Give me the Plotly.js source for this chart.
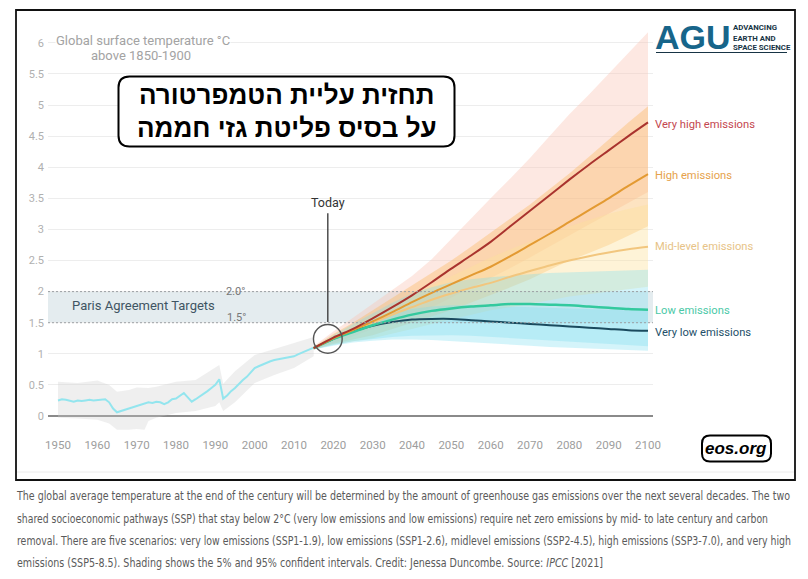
<!DOCTYPE html>
<html>
<head>
<meta charset="utf-8">
<script src="https://cdn.plot.ly/plotly-3.0.1.min.js"></script>
<style>
  html, body { margin:0; padding:0; background:#fff; }
  #wrap { position:relative; width:808px; height:579px; overflow:hidden; }
  #chart { position:absolute; left:0; top:0; width:808px; height:579px; }
  .cap { position:absolute; left:17px; white-space:nowrap; font-family:"DejaVu Sans Condensed","Liberation Sans Narrow","DejaVu Sans",sans-serif; font-stretch:condensed; font-size:11.5px; color:#5a5a5a; transform-origin:0 50%; line-height:14px; }
</style>
</head>
<body>
<div id="wrap">
  <div id="chart"></div>
</div>
<script>
// ---------------- DATA ----------------
const histYears = [1950,1951,1952,1953,1954,1955,1956,1957,1958,1959,1960,1961,1962,1963,1964,1965,1966,1967,1968,1969,
  1970,1971,1972,1973,1974,1975,1976,1977,1978,1979,1980,1981,1982,1983,1984,1985,1986,1987,1988,1989,
  1990,1991,1992,1993,1994,1995,1996,1997,1998,1999,2000,2001,2002,2003,2004,2005,2006,2007,2008,2009,
  2010,2011,2012,2013,2014,2015];
const histTemp = [0.25,0.27,0.26,0.24,0.23,0.25,0.24,0.25,0.26,0.25,0.26,0.27,0.27,0.22,0.12,0.06,0.08,0.11,0.12,0.14,
  0.17,0.18,0.20,0.22,0.21,0.23,0.22,0.19,0.22,0.27,0.28,0.32,0.37,0.30,0.23,0.27,0.31,0.36,0.40,0.45,
  0.50,0.59,0.28,0.33,0.40,0.45,0.52,0.58,0.63,0.70,0.77,0.80,0.83,0.86,0.88,0.90,0.91,0.92,0.93,0.94,
  0.96,0.99,1.02,1.05,1.08,1.10];

const histBandYears = [1950,1955,1960,1963,1965,1968,1970,1972,1973,1975,1980,1985,1990,1991,1992,1995,2000,2005,2010,2015];
const histUpper     = [0.55,0.53,0.57,0.50,0.39,0.42,0.46,0.45,0.45,0.47,0.55,0.58,0.78,0.82,0.52,0.72,0.98,1.08,1.18,1.27];
const histLower     = [-0.03,-0.04,-0.06,-0.12,-0.22,-0.22,-0.21,-0.22,-0.08,-0.03,0.05,0.08,0.16,0.22,0.08,0.22,0.53,0.66,0.77,0.96];

const projYears = [2015,2020,2025,2030,2035,2040,2045,2050,2055,2060,2065,2070,2075,2080,2085,2090,2095,2100];
const veryHigh  = [1.09,1.26,1.40,1.57,1.75,1.94,2.15,2.37,2.58,2.80,3.05,3.30,3.55,3.80,4.04,4.27,4.50,4.72];
const high      = [1.09,1.25,1.38,1.52,1.67,1.83,1.98,2.12,2.26,2.40,2.57,2.75,2.93,3.12,3.31,3.50,3.70,3.89];
const midLevel  = [1.09,1.24,1.37,1.50,1.63,1.75,1.87,1.97,2.06,2.14,2.24,2.33,2.42,2.50,2.57,2.63,2.68,2.72];
const low       = [1.09,1.24,1.35,1.46,1.55,1.63,1.69,1.73,1.76,1.78,1.80,1.80,1.79,1.78,1.76,1.74,1.72,1.71];
const veryLow   = [1.09,1.24,1.36,1.45,1.51,1.55,1.56,1.56,1.54,1.52,1.50,1.48,1.46,1.44,1.42,1.40,1.38,1.37];

const veryHighUp = [1.12,1.36,1.58,1.80,2.02,2.25,2.52,2.85,3.17,3.50,3.82,4.15,4.50,4.85,5.17,5.50,5.83,6.17];
const veryHighLo = [1.07,1.18,1.28,1.40,1.50,1.62,1.75,1.90,2.05,2.22,2.38,2.55,2.72,2.90,3.08,3.25,3.42,3.60];
const highUp     = [1.11,1.32,1.50,1.70,1.90,2.10,2.30,2.50,2.72,2.95,3.17,3.40,3.65,3.90,4.17,4.45,4.72,4.98];
const highLo     = [1.07,1.16,1.23,1.30,1.40,1.50,1.60,1.70,1.82,1.95,2.07,2.20,2.35,2.50,2.62,2.75,2.90,3.05];
const midUp      = [1.10,1.30,1.45,1.60,1.78,1.95,2.10,2.25,2.40,2.55,2.68,2.80,2.93,3.05,3.15,3.25,3.33,3.40];
const midLo      = [1.07,1.15,1.20,1.25,1.32,1.40,1.48,1.55,1.63,1.70,1.75,1.80,1.86,1.92,1.96,2.00,2.04,2.08];
const lowUp      = [1.10,1.30,1.48,1.65,1.82,1.97,2.07,2.15,2.20,2.23,2.26,2.28,2.30,2.31,2.32,2.33,2.34,2.35];
const lowLo      = [1.07,1.14,1.20,1.24,1.27,1.29,1.30,1.30,1.29,1.28,1.26,1.24,1.22,1.20,1.18,1.16,1.14,1.12];
const veryLowUp  = [1.10,1.28,1.42,1.55,1.65,1.72,1.76,1.78,1.78,1.77,1.76,1.75,1.74,1.73,1.72,1.71,1.70,1.69];
const veryLowLo  = [1.07,1.13,1.18,1.21,1.23,1.23,1.22,1.20,1.18,1.17,1.15,1.13,1.11,1.10,1.09,1.07,1.06,1.05];

const xTickYears = [1950,1960,1970,1980,1990,2000,2010,2020,2030,2040,2050,2060,2070,2080,2090,2100];
const yTickVals  = [0,0.5,1,1.5,2,2.5,3,3.5,4,4.5,5,5.5,6];
const yTickText  = ["0","0.5","1","1.5","2","2.5","3","3.5","4","4.5","5","5.5","6"];

const parisTargets = [1.5, 2.0];
const todayYear = 2018.6;

const scenarioNames  = ["Very high emissions","High emissions","Mid-level emissions","Low emissions","Very low emissions"];

const captionLines = [
 "The global average temperature at the end of the century will be determined by the amount of greenhouse gas emissions over the next several decades. The two",
 "shared socioeconomic pathways (SSP) that stay below 2°C (very low emissions and low emissions) require net zero emissions by mid- to late century and carbon",
 "removal. There are five scenarios: very low emissions (SSP1-1.9), low emissions (SSP1-2.6), midlevel emissions (SSP2-4.5), high emissions (SSP3-7.0), and very high",
 "emissions (SSP5-8.5). Shading shows the 5% and 95% confident intervals. Credit: Jenessa Duncombe. Source: <i>IPCC</i> [2021]"
];

// ---------------- LAYOUT GEOMETRY ----------------
const W = 808, H = 579;
const PL = 48, PR = 653, PT = 30, PB = 436;
const px = x => (x - PL) / (PR - PL);
const py = y => (PB - y) / (PB - PT);
const FONT = "Roboto, 'Liberation Sans', sans-serif";

function band(xs, up, lo, color) {
  return {
    x: xs.concat(xs.slice().reverse()),
    y: up.concat(lo.slice().reverse()),
    type: 'scatter', mode: 'lines', fill: 'toself', fillcolor: color,
    line: {width: 0}, hoverinfo: 'skip', showlegend: false
  };
}
function line(xs, ys, color, width) {
  return {x: xs, y: ys, type: 'scatter', mode: 'lines',
    line: {color: color, width: width, shape: 'spline', smoothing: 0.8}, showlegend: false, hoverinfo: 'skip'};
}
function roundRect(x0, y0, x1, y1, r) {
  const X0 = px(x0), X1 = px(x1), Y0 = py(y1), Y1 = py(y0);
  const rx = r / (PR - PL), ry = r / (PB - PT);
  return `M ${X0+rx},${Y1} L ${X1-rx},${Y1} Q ${X1},${Y1} ${X1},${Y1-ry} L ${X1},${Y0+ry} Q ${X1},${Y0} ${X1-rx},${Y0} L ${X0+rx},${Y0} Q ${X0},${Y0} ${X0},${Y0+ry} L ${X0},${Y1-ry} Q ${X0},${Y1} ${X0+rx},${Y1} Z`;
}

const colors = {
  veryHigh: '#a9332e', high: '#e39a32', mid: '#f2c67e', low: '#33c99e', veryLow: '#1a4a5e',
  veryHighLbl: '#c4474f', highLbl: '#e6a24c', midLbl: '#e7c387', lowLbl: '#4bc9a7', veryLowLbl: '#24506a'
};

const traces = [
  band(histBandYears, histUpper, histLower, 'rgba(205,205,205,0.32)'),
  band(projYears, veryHighUp, veryHighLo, 'rgba(251,195,180,0.38)'),
  band(projYears, highUp, highLo, 'rgba(250,185,100,0.40)'),
  band(projYears, midUp, midLo, 'rgba(253,225,155,0.40)'),
  band(projYears, lowUp, lowLo, 'rgba(120,220,238,0.32)'),
  band(projYears, veryLowUp, veryLowLo, 'rgba(120,220,238,0.32)'),
  {x: histYears, y: histTemp, type: 'scatter', mode: 'lines', line: {color: '#93e5ee', width: 2}, showlegend: false, hoverinfo: 'skip'},
  line(projYears, midLevel, colors.mid, 2),
  line(projYears, veryLow, colors.veryLow, 2),
  line(projYears, low, colors.low, 2.5),
  line(projYears, high, colors.high, 2),
  line(projYears, veryHigh, colors.veryHigh, 2)
];

const lastVal = a => a[a.length - 1];
const labelSeries = [
  [scenarioNames[0], lastVal(veryHigh), colors.veryHighLbl, -2],
  [scenarioNames[1], lastVal(high), colors.highLbl, -1],
  [scenarioNames[2], lastVal(midLevel), colors.midLbl, 0],
  [scenarioNames[3], lastVal(low), colors.lowLbl, -1],
  [scenarioNames[4], lastVal(veryLow), colors.veryLowLbl, -2]
];

const annotations = [];
labelSeries.forEach(([t, v, c, ys]) => annotations.push({
  xref: 'paper', x: px(653), yref: 'y', y: v, yshift: ys, xanchor: 'left', yanchor: 'middle',
  text: t, showarrow: false, font: {family: FONT, size: 11.2, color: c}
}));

annotations.push(
  {xref: 'paper', yref: 'paper', x: px(143), y: py(40.5), text: 'Global surface temperature °C', showarrow: false,
   font: {family: FONT, size: 13, color: '#a3a3a3'}, bgcolor: '#ffffff', borderpad: 0, xanchor: 'center', yanchor: 'middle'},
  {xref: 'paper', yref: 'paper', x: px(141), y: py(55.5), text: 'above 1850-1900', showarrow: false,
   font: {family: FONT, size: 13, color: '#a3a3a3'}, xanchor: 'center', yanchor: 'middle'},
  {xref: 'paper', yref: 'y', x: px(143.5), y: 1.77, text: 'Paris Agreement Targets', showarrow: false,
   font: {family: FONT, size: 13, color: '#3f5563'}, xanchor: 'center', yanchor: 'middle'},
  {xref: 'paper', yref: 'y', x: px(235), y: parisTargets[1], text: '2.0°', showarrow: false,
   font: {family: FONT, size: 11, color: '#777'}, xanchor: 'center', yanchor: 'middle'},
  {xref: 'paper', yref: 'y', x: px(236), y: parisTargets[0], yshift: 5, text: '1.5°', showarrow: false,
   font: {family: FONT, size: 11, color: '#777'}, xanchor: 'center', yanchor: 'middle'},
  {xref: 'x', yref: 'paper', x: todayYear, y: py(202.5), text: 'Today', showarrow: false,
   font: {family: FONT, size: 12.5, color: '#333'}, xanchor: 'center', yanchor: 'middle'},
  {xref: 'paper', yref: 'paper', x: px(286.5), y: py(95), text: '<b>תחזית עליית הטמפרטורה</b>', showarrow: false,
   font: {family: "'Liberation Sans', 'DejaVu Sans', sans-serif", size: 26, color: '#000'}, xanchor: 'center', yanchor: 'middle'},
  {xref: 'paper', yref: 'paper', x: px(286.5), y: py(128), text: '<b>על בסיס פליטת גזי חממה</b>', showarrow: false,
   font: {family: "'Liberation Sans', 'DejaVu Sans', sans-serif", size: 26, color: '#000'}, xanchor: 'center', yanchor: 'middle'},
  {xref: 'paper', yref: 'paper', x: px(736), y: py(448), text: '<b><i>eos.org</i></b>', showarrow: false,
   font: {family: "'Liberation Sans', Arial, sans-serif", size: 17, color: '#000'}, xanchor: 'center', yanchor: 'middle'},
  {xref: 'paper', yref: 'paper', x: px(653), y: py(37), text: '<b>AGU</b>', showarrow: false,
   font: {family: "'Liberation Sans', Arial, sans-serif", size: 34, color: '#17658a'}, xanchor: 'left', yanchor: 'middle'},
  {xref: 'paper', yref: 'paper', x: px(731), y: py(28), text: '<b>ADVANCING</b>', showarrow: false,
   font: {family: FONT, size: 7.8, color: '#173445'}, xanchor: 'left', yanchor: 'middle'},
  {xref: 'paper', yref: 'paper', x: px(731), y: py(38.3), text: '<b>EARTH AND</b>', showarrow: false,
   font: {family: FONT, size: 7.8, color: '#173445'}, xanchor: 'left', yanchor: 'middle'},
  {xref: 'paper', yref: 'paper', x: px(731), y: py(48), text: '<b>SPACE SCIENCE</b>', showarrow: false,
   font: {family: FONT, size: 7.8, color: '#173445'}, xanchor: 'left', yanchor: 'middle'}
);

const shapes = [
  {type: 'rect', xref: 'paper', yref: 'y', x0: 0, x1: 1, y0: parisTargets[0], y1: parisTargets[1],
   fillcolor: '#e4ecef', line: {width: 0}, layer: 'below'},
  {type: 'line', xref: 'paper', yref: 'y', x0: 0, x1: 1, y0: parisTargets[1], y1: parisTargets[1],
   line: {color: '#9a9fa3', width: 1, dash: '2px,2px'}},
  {type: 'line', xref: 'paper', yref: 'y', x0: 0, x1: 1, y0: parisTargets[0], y1: parisTargets[0],
   line: {color: '#9a9fa3', width: 1, dash: '2px,2px'}},
  {type: 'line', xref: 'x', yref: 'y', x0: todayYear, x1: todayYear, y0: 1.51, y1: 3.26,
   line: {color: '#333', width: 1.3}},
  {type: 'circle', xref: 'x', yref: 'y', x0: todayYear - 3.65, x1: todayYear + 3.65, y0: 1.01, y1: 1.47,
   line: {color: '#555', width: 1.4}},
  {type: 'rect', xref: 'paper', yref: 'paper', x0: px(16), x1: px(795), y0: py(480), y1: py(10),
   line: {color: '#111', width: 1.8}},
  {type: 'line', xref: 'paper', yref: 'paper', x0: px(17), x1: px(794), y0: py(472), y1: py(472),
   line: {color: '#ececec', width: 1}},
  {type: 'path', xref: 'paper', yref: 'paper', path: roundRect(118.5, 76.5, 454.5, 146.5, 11),
   fillcolor: '#ffffff', line: {color: '#000', width: 2}},
  {type: 'path', xref: 'paper', yref: 'paper', path: roundRect(702, 435.5, 771, 461.5, 8),
   fillcolor: '#ffffff', line: {color: '#000', width: 2}},
  {type: 'line', xref: 'paper', yref: 'paper', x0: px(656), x1: px(787), y0: py(52.5), y1: py(52.5),
   line: {color: '#173445', width: 1}}
];

const layout = {
  width: W, height: H,
  margin: {l: PL, r: W - PR, t: PT, b: H - PB, pad: 0},
  paper_bgcolor: '#ffffff', plot_bgcolor: 'rgba(0,0,0,0)',
  showlegend: false,
  xaxis: {
    range: [1947.46, 2101.27], tickvals: xTickYears, showgrid: false, zeroline: false, showline: false,
    ticks: '', tickfont: {family: FONT, size: 11.5, color: '#9d9d9d'}, ticklabelstandoff: 0, fixedrange: true
  },
  yaxis: {
    range: [-0.3215, 6.206], tickvals: yTickVals, ticktext: yTickText, showgrid: true, gridcolor: '#ededed', gridwidth: 1,
    zeroline: true, zerolinecolor: '#8a8a8a', zerolinewidth: 2.5, showline: false, ticks: '',
    tickfont: {family: FONT, size: 11, color: '#b0b0b0'}, ticklabelstandoff: 3, fixedrange: true
  },
  annotations: annotations,
  shapes: shapes
};

Plotly.newPlot('chart', traces, layout, {displayModeBar: false, staticPlot: true});

// ---------------- CAPTION ----------------
const capTops = [496, 519, 541, 563];
const capWidths = [773, 751, 774, 586];
const wrap = document.getElementById('wrap');
captionLines.forEach((t, i) => {
  const d = document.createElement('div');
  d.className = 'cap';
  d.innerHTML = t;
  d.style.top = (capTops[i] - 7) + 'px';
  wrap.appendChild(d);
  const w = d.getBoundingClientRect().width;
  d.style.transform = 'scaleX(' + (capWidths[i] / w) + ')';
});
</script>
</body>
</html>
